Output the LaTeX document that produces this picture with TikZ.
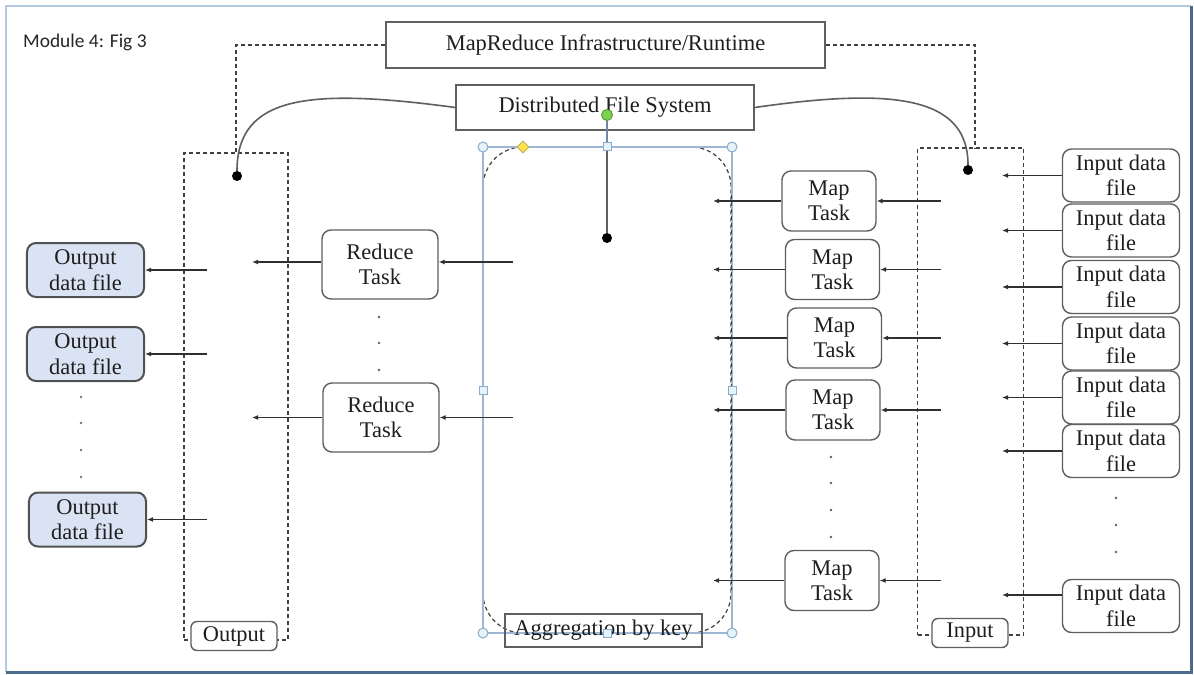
\documentclass[tikz,border=0pt]{standalone}
\usepackage{fontspec}
\setmainfont{Liberation Serif}
\newfontfamily\calibrifam{Carlito}
\usetikzlibrary{arrows.meta,shapes.geometric}
\definecolor{boxgray}{HTML}{5F5F5F}
\definecolor{dashgray}{HTML}{404040}
\definecolor{selblue}{HTML}{9DB8D6}
\definecolor{hfill}{HTML}{E3F5FA}
\definecolor{hstroke}{HTML}{8EAACB}
\definecolor{grnfill}{HTML}{7ED050}
\definecolor{grnstroke}{HTML}{5C9C3A}
\definecolor{yelfill}{HTML}{FFE24A}
\definecolor{yelstroke}{HTML}{B8A34A}
\definecolor{outfill}{HTML}{DAE3F3}
\definecolor{framelight}{HTML}{B4C8E4}
\definecolor{framedark}{HTML}{4D6B8F}
\definecolor{arrgray}{HTML}{303030}
\definecolor{txtcol}{HTML}{1E1E1E}
\newcommand\dgtxt{\fontsize{22.5}{25.5}\selectfont}
\begin{document}
\begin{tikzpicture}[x=1bp,y=-1bp,
  rbox/.style={draw=boxgray, line width=1.4bp, rounded corners=9bp, align=center, inner sep=0pt, font=\dgtxt, text=txtcol},
  mapbox/.style={rbox, minimum width=94bp, minimum height=60bp},
  redbox/.style={rbox, minimum width=116bp, minimum height=69bp},
  infile/.style={rbox, minimum width=117bp, minimum height=53bp},
  outfile/.style={rbox, fill=outfill, draw=boxgray!85!black, line width=2bp, minimum width=117bp, minimum height=54bp},
  sqbox/.style={draw=boxgray, line width=1.4bp, inner sep=0pt, font=\dgtxt, text=txtcol},
  lblbox/.style={rbox, fill=white, rounded corners=6bp, minimum height=29bp},
  dashbox/.style={draw=dashgray, line width=1.2bp, dash pattern=on 4bp off 3bp, inner sep=0pt},
  dashline/.style={draw=dashgray, line width=1.2bp, dash pattern=on 4bp off 3bp},
  arr/.style={draw=arrgray, line width=1.3bp, -{Latex[length=6bp,width=5bp]}},
  curve/.style={draw=boxgray, line width=1.6bp},
  bigdot/.style={circle, fill=black, inner sep=0pt, minimum size=10bp},
  ldot/.style={circle, fill=boxgray, inner sep=0pt, minimum size=2.6bp},
  hcirc/.style={circle, draw=hstroke, fill=hfill, line width=1bp, inner sep=0pt, minimum size=10bp},
  hsq/.style={rectangle, draw=hstroke, fill=hfill, line width=1bp, inner sep=0pt, minimum size=8bp},
  grn/.style={circle, draw=grnstroke, fill=grnfill, line width=1bp, inner sep=0pt, minimum size=11bp},
  ydia/.style={diamond, draw=yelstroke, fill=yelfill, line width=0.8bp, inner sep=0pt, minimum size=12bp}
]
\useasboundingbox (0,0) rectangle (1194,675);
\fill[white] (0,0) rectangle (1194,675);
% frame
\draw[framelight, line width=1.5bp] (6,672) -- (6,6) -- (1191,6);
\draw[framedark, line width=3bp] (6,672) -- (1191,672) -- (1191,6);

% title
\node[anchor=base west, inner sep=0pt, font=\calibrifam\fontsize{19.5}{22}\selectfont, text=black!85] (title) at (23,48) {Module 4: Fig 3};

% top boxes
\node[sqbox, fill=white, minimum width=439bp, minimum height=46bp] (mr) at (605.5,45) {MapReduce Infrastructure/Runtime};
\node[sqbox, fill=white, minimum width=298bp, minimum height=45bp] (dfs) at (605,107.5) {Distributed File System};

% dashed groups
\node[dashbox, minimum width=104bp, minimum height=487bp] (outbox) at (236,396.5) {};
\node[dashbox, minimum width=106bp, minimum height=487bp] (inbox) at (970.5,391.5) {};
\coordinate (intop) at (975,148);
\draw[dashline] (mr.west) -| (outbox.north);
\draw[dashline] (mr.east) -| (intop);

% aggregation region and selection
\draw[dashline, rounded corners=40bp] (483,147) rectangle (731,633);
\draw[selblue, line width=1.2bp] (483,147) rectangle (732,633);
\draw[dashline] (731.5,195) -- (731.5,590);

% curves from DFS
\node[bigdot] (ld) at (237,176) {};
\node[bigdot] (rd) at (968,170) {};
\draw[curve] (dfs.west) .. controls (310,88) and (237,95) .. (ld);
\draw[curve] (dfs.east) .. controls (890,88) and (968,95) .. (rd);

% central handle line
\coordinate (gpos) at (607,115);
\coordinate (tpos) at (607,147);
\node[bigdot] (cd) at (607,238) {};
\draw[hstroke!80!black, line width=1.3bp] (gpos) -- (tpos);
\draw[boxgray, line width=2bp] (tpos) -- (cd);

% labels on groups
\node[lblbox, minimum width=86bp] (outlbl) at (234,636) {Output};
\node[lblbox, minimum width=76bp] (inlbl) at (970,633) {Input};
\node[sqbox, minimum width=197bp, minimum height=33bp] (agg) at (603.5,630.5) {Aggregation by key};

% handles
\node[hcirc] (hc1) at (483,147) {};
\node[hcirc] (hc2) at (732,147) {};
\node[hcirc] (hc3) at (483,633) {};
\node[hcirc] (hc4) at (732,633) {};
\node[hsq] (hs1) at (tpos) {};
\node[hsq] (hs2) at (483,390) {};
\node[hsq] (hs3) at (732,390) {};
\node[hsq] (hs4) at (607,633) {};
\node[ydia] (hy) at (523,147) {};
\node[grn] (hg) at (gpos) {};

% input data files
\node[infile] (i1) at (1121,175.5) {Input data\\file};
\node[infile] (i2) at (1121,230.5) {Input data\\file};
\node[infile] (i3) at (1121,287) {Input data\\file};
\node[infile] (i4) at (1121,343.5) {Input data\\file};
\node[infile] (i5) at (1121,397.5) {Input data\\file};
\node[infile] (i6) at (1121,451) {Input data\\file};
\node[infile] (i7) at (1121,606) {Input data\\file};
\foreach \y [count=\k] in {498,525,552} \node[ldot] (idot\k) at (1116,\y) {};
\coordinate (inR) at (1002,0);
\foreach \n in {i1,i2,i3,i4,i5,i6} \draw[arr] (\n.west) -- (\n.west -| inR);
\draw[arr] ([yshift=11bp]i7.west) -- ([yshift=11bp]i7.west -| inR);

% map tasks
\node[mapbox] (m1) at (829,201) {Map\\Task};
\node[mapbox] (m2) at (832.5,269.5) {Map\\Task};
\node[mapbox] (m3) at (834.5,338) {Map\\Task};
\node[mapbox] (m4) at (833,410) {Map\\Task};
\node[mapbox] (m5) at (832,580.5) {Map\\Task};
\foreach \y [count=\k] in {457,483,510,537} \node[ldot] (mdot\k) at (831,\y) {};
\coordinate (mapR) at (941,0);
\coordinate (mapL) at (713,0);
\foreach \n in {m1,m2,m3,m4,m5} {
  \draw[arr] (\n.east -| mapR) -- (\n.east);
  \draw[arr] (\n.west) -- (\n.west -| mapL);
}

% reduce tasks
\node[redbox] (r1) at (380,264.5) {Reduce\\Task};
\node[redbox] (r2) at (381,417.5) {Reduce\\Task};
\foreach \y [count=\k] in {317,343,370} \node[ldot] (rdot\k) at (379,\y) {};
\coordinate (redR) at (513,0);
\coordinate (redL) at (252,0);
\draw[arr] ([yshift=2.5bp]r1.east -| redR) -- ([yshift=2.5bp]r1.east);
\draw[arr] ([yshift=2.5bp]r1.west) -- ([yshift=2.5bp]r1.west -| redL);
\draw[arr] (r2.east -| redR) -- (r2.east);
\draw[arr] (r2.west) -- (r2.west -| redL);

% output files
\node[outfile] (o1) at (85.5,270) {Output\\data file};
\node[outfile] (o2) at (85.5,354) {Output\\data file};
\node[outfile] (o3) at (87.5,519.5) {Output\\data file};
\foreach \y [count=\k] in {397,423,450,477} \node[ldot, fill=hstroke!70!black] (odot\k) at (81,\y) {};
\coordinate (outR) at (207,0);
\foreach \n in {o1,o2,o3} \draw[arr] (\n.east -| outR) -- (\n.east);
\end{tikzpicture}
\end{document}
